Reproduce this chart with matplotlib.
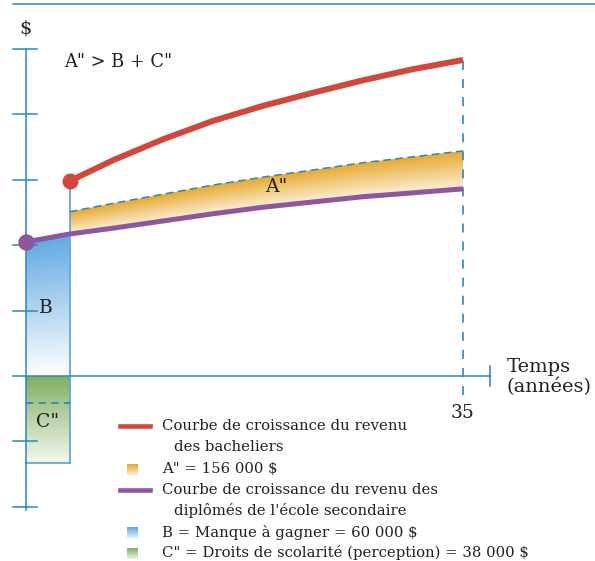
import numpy as np
import matplotlib
matplotlib.use("Agg")
import matplotlib.pyplot as plt
from matplotlib.colors import LinearSegmentedColormap
from matplotlib.patches import Polygon
from matplotlib.lines import Line2D

plt.rcParams['font.family'] = ['DejaVu Serif']

# --- data (years since leaving high school, income in arbitrary units) ---
study_end = 3.5
horizon = 35
years_hs = [0, 3.5, 7, 11, 15, 19, 23, 27, 31, 35]
income_hs = [2.05, 2.17, 2.26, 2.37, 2.48, 2.58, 2.66, 2.74, 2.80, 2.86]
years_bac = [3.5, 7, 11, 15, 19, 23, 27, 31, 35]
income_bac = [2.98, 3.30, 3.62, 3.90, 4.13, 4.33, 4.52, 4.69, 4.83]
income_bac_net = [2.51, 2.64, 2.78, 2.92, 3.04, 3.15, 3.26, 3.35, 3.44]
tuition_low = -1.33
tuition_dash = -0.41
y_ticks = [-2, -1, 1, 2, 3, 4, 5]

legend_labels = [
    ("line", "#d2473b", "Courbe de croissance du revenu\ndes bacheliers"),
    ("box", ("#e6a92f", "#fbeccd"), "A\" = 156 000 $"),
    ("line", "#8d569f", "Courbe de croissance du revenu des\ndiplômés de l'école secondaire"),
    ("box", ("#5ea7e0", "#e8f1fb"), "B = Manque à gagner = 60 000 $"),
    ("box", ("#7eac5e", "#eef4e8"), "C\" = Droits de scolarité (perception) = 38 000 $"),
]

W, H = 595, 561
AXC = "#2c86b6"
fig = plt.figure(figsize=(W / 100, H / 100), dpi=100)
ax = fig.add_axes([0, 0, 1, 1])
ax.axis('off')

# pixel scale of the original drawing
x0px, xpx = 26, 437 / 35
y0px, ypx = 376, 65.43
xlim = (-x0px / xpx, (W - x0px) / xpx)
ylim = (-(H - y0px) / ypx, y0px / ypx)


def gradient_fill(x, ylow, yhigh, ctop, cbot, z=1):
    x = np.asarray(x, float)
    ylow = np.asarray(ylow, float)
    yhigh = np.asarray(yhigh, float)
    verts = list(zip(x, yhigh)) + list(zip(x[::-1], ylow[::-1]))
    poly = Polygon(verts, closed=True, fc='none', ec='none')
    ax.add_patch(poly)
    ymin, ymax = ylow.min(), yhigh.max()
    gx = np.linspace(x[0], x[-1], 200)
    gy = np.linspace(ymax, ymin, 300)
    lo = np.interp(gx, x, ylow)
    hi = np.interp(gx, x, yhigh)
    t = (hi[None, :] - gy[:, None]) / (hi - lo)[None, :]
    t = np.clip(t, 0, 1)
    cmap = LinearSegmentedColormap.from_list('g', [ctop, cbot])
    im = ax.imshow(t, extent=[x[0], x[-1], ymin, ymax], aspect='auto',
                   cmap=cmap, vmin=0, vmax=1, zorder=z, interpolation='bilinear')
    im.set_clip_path(poly)


# A'' area between high-school curve and net bachelor curve
hs_after = np.interp(years_bac, years_hs, income_hs)
gradient_fill(years_bac, hs_after, income_bac_net, "#e6a92f", "#fcefd8")

# B area: forgone income during studies
bx = [y for y in years_hs if y <= study_end]
by = income_hs[:len(bx)]
gradient_fill(bx, [0] * len(bx), by, "#62aae2", "#ffffff")

# C'' area: tuition
gradient_fill([0, study_end], [tuition_low] * 2, [0, 0], "#7fae60", "#f4f8f0")

# outlines
ax.plot([study_end, study_end], [tuition_low, income_bac[0]], color="#5aa2cf", lw=1.2, zorder=3)
ax.plot([0, study_end], [tuition_low, tuition_low], color="#5aa2cf", lw=1.2, zorder=3)
ax.plot([0, study_end], [tuition_dash, tuition_dash], color=AXC, lw=1.3, ls=(0, (4, 3)), zorder=3)
ax.plot(years_bac, income_bac_net, color=AXC, lw=1.1, ls=(0, (5, 3)), zorder=3)
ax.plot([horizon, horizon], [-0.29, income_bac[-1]], color="#3d8fbd", lw=1.3,
        ls=(0, (5, 5)), zorder=3)

# axes
ax.plot([0, 0], [-2.05, 5], color=AXC, lw=1.1, zorder=4)
ax.plot([-1.04, 37.2], [0, 0], color=AXC, lw=1.1, zorder=4)
ax.plot([37.2, 37.2], [-0.15, 0.15], color=AXC, lw=1.1, zorder=4)
for t in y_ticks:
    ax.plot([-1.04, 0.9], [t, t], color=AXC, lw=1.1, zorder=4)

# income curves
ax.plot(years_bac, income_bac, color="#d2473b", lw=4.3, zorder=5,
        solid_capstyle='butt', solid_joinstyle='round')
ax.plot(years_hs, income_hs, color="#8d569f", lw=3.6, zorder=5,
        solid_capstyle='butt', solid_joinstyle='round')
ax.plot(years_bac[0], income_bac[0], 'o', color="#d2473b", ms=10.5, zorder=6)
ax.plot(years_hs[0], income_hs[0], 'o', color="#8d569f", ms=10.8, zorder=6)

ax.set_xlim(*xlim)
ax.set_ylim(*ylim)

# top rule
fig.add_artist(Line2D([13 / W, 1], [1 - 4 / H] * 2, color=AXC, lw=1.1))


def fp(x, y):
    return x / W, 1 - y / H


tc = "#231f20"
fig.text(*fp(26, 28), "$", fontsize=14, ha='center', va='center', color=tc)
fig.text(*fp(64, 62), "A\" > B + C\"", fontsize=12.8, ha='left', va='center', color=tc)
fig.text(*fp(46, 308), "B", fontsize=13.5, ha='center', va='center', color=tc)
fig.text(*fp(48, 422), "C\"", fontsize=13.5, ha='center', va='center', color=tc)
fig.text(*fp(276, 187), "A\"", fontsize=13.5, ha='center', va='center', color=tc)
fig.text(*fp(463, 413), str(horizon), fontsize=13.5, ha='center', va='center', color=tc)
fig.text(*fp(507, 367), "Temps", fontsize=14, ha='left', va='center', color=tc)
fig.text(*fp(507, 387), "(années)", fontsize=14, ha='left', va='center', color=tc)

# legend
rows = [(426, 447), (469,), (490, 511), (532,), (553,)]
for (kind, col, label), ys in zip(legend_labels, rows):
    yc = ys[0]
    if kind == "line":
        fig.add_artist(Line2D([120 / W, 150 / W], [1 - yc / H] * 2, color=col, lw=3.3))
    else:
        sub = fig.add_axes([127 / W, 1 - (yc + 6) / H, 11 / W, 11 / H])
        sub.imshow(np.linspace(0, 1, 50)[:, None], aspect='auto',
                   cmap=LinearSegmentedColormap.from_list('l', list(col)))
        sub.axis('off')
    lines = label.split("\n")
    for i, (ln, yy) in enumerate(zip(lines, ys)):
        fig.text(*fp(162 if i == 0 else 174, yy), ln, fontsize=10.7,
                 ha='left', va='center', color=tc)

fig.savefig("out.png", dpi=100)
